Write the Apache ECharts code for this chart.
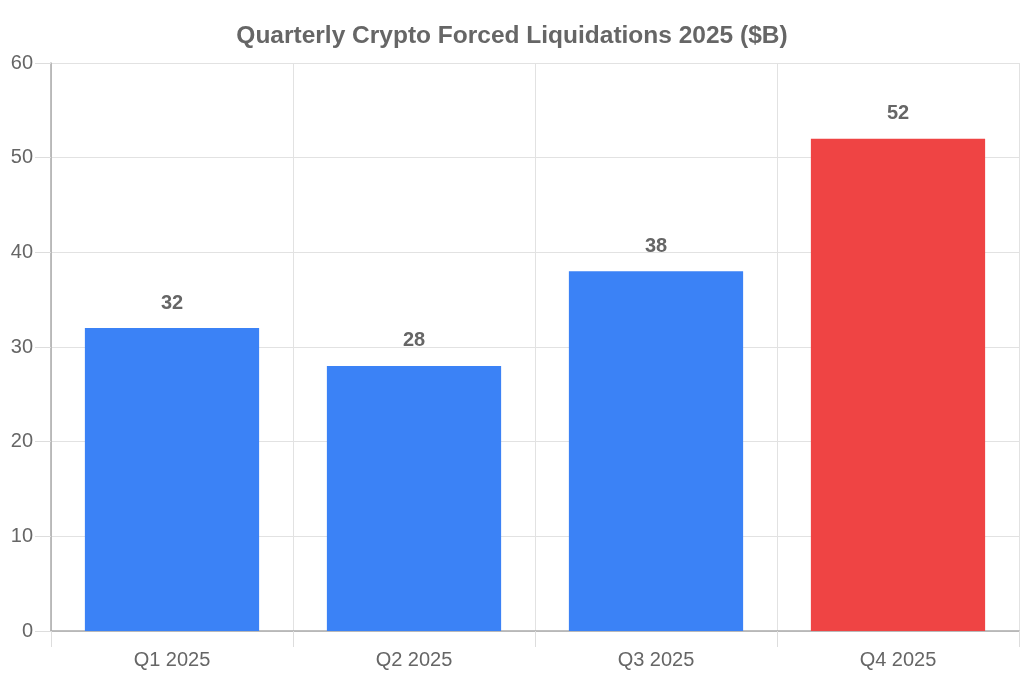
<!DOCTYPE html>
<html>
<head>
<meta charset="utf-8">
<script src="https://cdn.jsdelivr.net/npm/echarts@6/dist/echarts.min.js"></script>
<style>html,body{margin:0;padding:0;background:#fff}#c{width:1024px;height:683px}</style>
</head>
<body>
<div id="c"></div>
<script>
const categories = ['Q1 2025', 'Q2 2025', 'Q3 2025', 'Q4 2025'];
const values = [32, 28, 38, 52];
const barColors = ['#3b82f6', '#3b82f6', '#3b82f6', '#ef4444'];
const titleText = 'Quarterly Crypto Forced Liquidations 2025 ($B)';

const chart = echarts.init(document.getElementById('c'));
chart.setOption({
  animation: false,
  backgroundColor: '#ffffff',
  textStyle: { fontFamily: 'Liberation Sans, Arial, sans-serif' },
  title: {
    text: titleText,
    left: 'center',
    top: 19,
    textStyle: { fontSize: 24.5, fontWeight: 'bold', color: '#666666', fontFamily: 'Liberation Sans, Arial, sans-serif' }
  },
  grid: { left: 51, right: 5, top: 63, bottom: 52, containLabel: false },
  xAxis: {
    type: 'category',
    data: categories,
    boundaryGap: true,
    axisLine: { show: true, lineStyle: { color: '#aaaaaa', width: 1.5 } },
    axisTick: { show: true, length: 16, lineStyle: { color: '#dddddd' } },
    splitLine: { show: true, lineStyle: { color: '#e2e2e2' } },
    axisLabel: { fontSize: 20, color: '#666666', margin: 19 }
  },
  yAxis: {
    type: 'value',
    min: 0,
    max: 60,
    interval: 10,
    axisLine: { show: true, lineStyle: { color: '#aaaaaa', width: 1.5 } },
    axisTick: { show: true, length: 16, lineStyle: { color: '#dddddd' } },
    splitLine: { show: true, lineStyle: { color: '#e2e2e2' } },
    axisLabel: { fontSize: 20, color: '#666666', margin: 18 }
  },
  series: [{
    type: 'bar',
    data: values.map((v, i) => ({ value: v, itemStyle: { color: barColors[i] } })),
    barWidth: '72%',
    label: {
      show: true,
      position: 'top',
      distance: 15,
      fontSize: 20,
      fontWeight: 'bold',
      color: '#666666'
    }
  }]
});
</script>
</body>
</html>
